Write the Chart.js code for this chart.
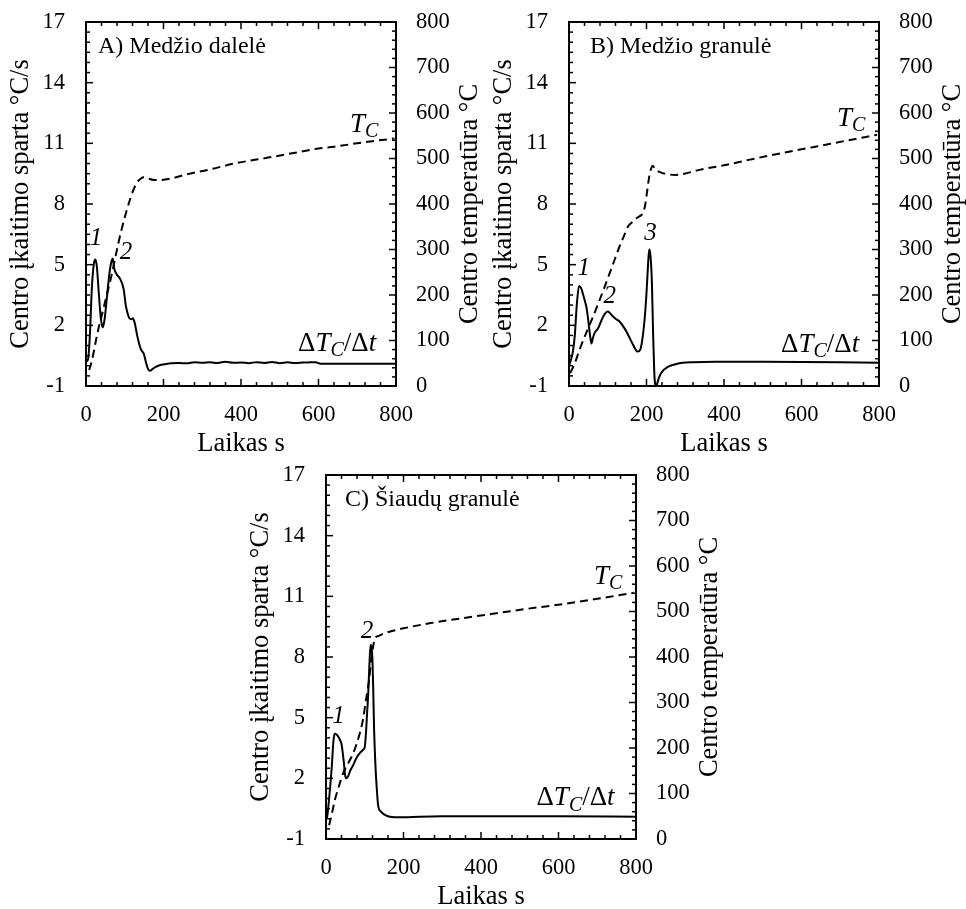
<!DOCTYPE html>
<html>
<head>
<meta charset="utf-8">
<title>Centro įkaitimo sparta</title>
<script src="https://cdn.jsdelivr.net/npm/chart.js@4.4.0/dist/chart.umd.min.js"></script>
<style>
  body { margin: 0; background: #fff; }
  #wrap { position: relative; width: 966px; height: 909px; }
  .box { position: absolute; width: 483px; height: 455px; }
</style>
</head>
<body>
<div id="wrap">
  <div class="box" style="left:0;top:0"><canvas id="chartA" width="483" height="455"></canvas></div>
  <div class="box" style="left:483px;top:0"><canvas id="chartB" width="483" height="455"></canvas></div>
  <div class="box" style="left:240px;top:453px"><canvas id="chartC" width="483" height="455"></canvas></div>
</div>
<script>
// ---- data (time s, rate °C/s, temperature °C) ----

// A) Medžio dalelė
const timeRateA = [0, 5, 10, 15, 20, 24, 28, 33, 38, 43, 48, 54, 60, 65, 69, 73, 80, 88, 97, 103, 108, 112, 117, 121, 126, 131, 135, 142, 149, 155, 160, 165, 172, 180, 194, 210, 220, 240, 260, 280, 300, 320, 340, 360, 380, 400, 420, 440, 460, 480, 500, 520, 540, 560, 580, 592, 605, 620, 700, 800];
const rateA = [0.2, 0.3, 1.5, 3.8, 5.0, 5.25, 4.9, 3.6, 2.4, 1.9, 2.3, 3.4, 4.5, 5.1, 5.3, 4.8, 4.5, 4.3, 3.8, 2.95, 2.55, 2.35, 2.3, 2.35, 2.1, 1.6, 1.25, 0.8, 0.6, 0.15, -0.15, -0.25, -0.15, -0.05, 0.05, 0.1, 0.12, 0.14, 0.12, 0.18, 0.15, 0.17, 0.14, 0.2, 0.15, 0.16, 0.13, 0.18, 0.14, 0.19, 0.13, 0.17, 0.14, 0.16, 0.17, 0.18, 0.1, 0.1, 0.1, 0.1];
const timeTempA = [8, 15, 30, 45, 65, 90, 116, 130, 142, 148, 160, 175, 194, 220, 254, 320, 383, 470, 555, 600, 641, 720, 796];
const tempA = [35, 55, 118, 170, 240, 338, 416, 445, 456, 459, 456, 453, 453, 456, 464, 476, 489, 502, 515, 522, 526, 536, 544];

// B) Medžio granulė
const timeRateB = [0, 5, 10, 15, 20, 26, 31, 36, 41, 45, 50, 55, 58, 62, 67, 75, 85, 92, 100, 106, 113, 122, 131, 145, 156, 165, 177, 184, 190, 196, 200, 204, 207, 210, 214, 217, 220, 222, 225, 228, 233, 240, 250, 259, 275, 293, 320, 378, 500, 800];
const rateB = [0.0, 0.3, 0.7, 1.5, 3.0, 3.95, 3.85, 3.55, 3.2, 2.9, 2.2, 1.4, 1.1, 1.4, 1.65, 1.85, 2.3, 2.55, 2.68, 2.6, 2.45, 2.3, 2.18, 1.8, 1.4, 1.05, 0.7, 0.8, 1.4, 2.5, 3.6, 5.0, 5.75, 5.5, 4.1, 1.6, -0.3, -0.87, -1.0, -0.85, -0.55, -0.3, -0.12, -0.02, 0.08, 0.15, 0.18, 0.2, 0.2, 0.15];
const timeTempB = [3, 15, 27, 45, 62, 79, 95, 105, 118, 130, 142, 152, 163, 173, 182, 190, 196, 202, 207, 212, 216, 222, 235, 250, 275, 300, 336, 400, 464, 550, 636, 720, 795];
const tempB = [28, 50, 79, 118, 152, 189, 225, 248, 278, 306, 330, 350, 360, 368, 373, 379, 395, 430, 460, 478, 484, 477, 470, 466, 464, 467, 475, 485, 497, 512, 526, 540, 552];

// C) Šiaudų granulė
const timeRateC = [0, 3, 8, 15, 19, 22, 28, 32, 36, 40, 43, 46, 49, 52, 57, 63, 70, 77, 83, 90, 95, 100, 103, 106, 109, 112, 115, 118, 120, 122, 124, 127, 130, 135, 142, 152, 165, 190, 243, 300, 400, 600, 800];
const rateC = [0.0, 0.1, 1.0, 2.6, 3.8, 4.2, 4.15, 4.05, 3.9, 3.7, 3.3, 2.8, 2.2, 2.0, 2.1, 2.4, 2.65, 2.95, 3.15, 3.3, 3.4, 3.55, 4.2, 5.2, 6.2, 7.6, 8.6, 8.4, 7.8, 6.3, 4.5, 2.9, 1.8, 0.6, 0.35, 0.19, 0.1, 0.07, 0.1, 0.12, 0.13, 0.12, 0.1];
const timeTempC = [8, 15, 23, 33, 44, 57, 70, 87, 96, 103, 111, 117, 122, 126, 135, 150, 200, 267, 350, 439, 520, 610, 700, 794];
const tempC = [30, 55, 86, 115, 144, 166, 188, 232, 265, 305, 349, 395, 425, 441, 446, 452, 463, 474, 485, 496, 506, 516, 528, 541];

// axis ticks
const timeTicks = { min: 0, max: 800, step: 200, minor: 40 };
const rateTicks = { min: -1, max: 17, step: 3, minor: 0.5 };
const tempTicks = { min: 0, max: 800, step: 100, minor: 20 };

const SERIF = '"Liberation Serif", "Times New Roman", serif';

const pts = (xs, ys) => xs.map((x, i) => ({ x: x, y: ys[i] }));

function drawRuns(ctx, runs, cx, cy) {
  let w = 0;
  runs.forEach(r => { ctx.font = r.font; r.w = ctx.measureText(r.text).width; w += r.w; });
  let x = cx - w / 2;
  runs.forEach(r => { ctx.font = r.font; ctx.fillText(r.text, x, cy + (r.dy || 0)); x += r.w; });
}

const IT = 'italic 27px ' + SERIF, SUB = 'italic 20px ' + SERIF, RM = '27px ' + SERIF;

// frame, inward ticks, titles and annotations
const decor = {
  id: 'decor',
  afterDatasetsDraw(chart, args, o) {
    const { ctx, chartArea: a, scales } = chart;
    ctx.save();
    ctx.strokeStyle = '#000';
    ctx.fillStyle = '#000';
    ctx.lineWidth = 1.5;
    const seg = (x1, y1, x2, y2) => { ctx.beginPath(); ctx.moveTo(x1, y1); ctx.lineTo(x2, y2); ctx.stroke(); };

    const x = scales.x;
    for (let i = 0; i * timeTicks.minor <= timeTicks.max; i++) {
      const v = i * timeTicks.minor, px = x.getPixelForValue(v);
      const len = v % timeTicks.step === 0 ? 7 : 4;
      seg(px, a.bottom, px, a.bottom - len);
      seg(px, a.top, px, a.top + len);
    }
    const y = scales.y;
    for (let i = 0; rateTicks.min + i * rateTicks.minor <= rateTicks.max; i++) {
      const v = rateTicks.min + i * rateTicks.minor, py = y.getPixelForValue(v);
      const len = (v - rateTicks.min) % rateTicks.step === 0 ? 7 : 4;
      seg(a.left, py, a.left + len, py);
    }
    const y2 = scales.y2;
    for (let i = 0; i * tempTicks.minor <= tempTicks.max; i++) {
      const v = i * tempTicks.minor, py = y2.getPixelForValue(v);
      const len = v % tempTicks.step === 0 ? 7 : 4;
      seg(a.right, py, a.right - len, py);
    }
    ctx.lineWidth = 2;
    ctx.strokeRect(a.left, a.top, a.right - a.left, a.bottom - a.top);

    // axis titles
    const midY = (a.top + a.bottom) / 2;
    ctx.font = '26.5px ' + SERIF;
    ctx.textAlign = 'center';
    ctx.textBaseline = 'middle';
    ctx.save(); ctx.translate(21, midY); ctx.rotate(-Math.PI / 2);
    ctx.fillText('Centro įkaitimo sparta °C/s', 0, 0); ctx.restore();
    ctx.save(); ctx.translate(470, midY); ctx.rotate(-Math.PI / 2);
    ctx.fillText('Centro temperatūra °C', 0, 0); ctx.restore();
    ctx.fillText('Laikas s', (a.left + a.right) / 2, 444);

    // panel label
    ctx.textAlign = 'left';
    ctx.font = '24px ' + SERIF;
    ctx.fillText(o.label, o.labelX, 47);

    // peak numbers and curve names
    o.peaks.forEach(p => {
      drawRuns(ctx, [{ text: p.text, font: 'italic 25px ' + SERIF }], x.getPixelForValue(p.t), y.getPixelForValue(p.v));
    });
    drawRuns(ctx, [{ text: 'T', font: IT }, { text: 'C', font: SUB, dy: 7 }],
      x.getPixelForValue(o.tc[0]), y.getPixelForValue(o.tc[1]));
    drawRuns(ctx, [{ text: 'Δ', font: RM }, { text: 'T', font: IT }, { text: 'C', font: SUB, dy: 7 },
      { text: '/', font: RM }, { text: 'Δ', font: RM }, { text: 't', font: IT }],
      x.getPixelForValue(o.dt[0]), y.getPixelForValue(o.dt[1]));
    ctx.restore();
  }
};

// invisible tick marks keep the y labels away from the frame
// (ticks.padding would also push the plot top down)
const hiddenGrid = len => ({ display: true, drawOnChartArea: false, drawTicks: true,
  tickLength: len, color: 'rgba(0,0,0,0)' });

function makeChart(id, rateT, rate, tempT, temp, extra) {
  const tickFont = { family: SERIF, size: 22.5 };
  return new Chart(document.getElementById(id), {
    type: 'line',
    data: {
      datasets: [
        { data: pts(rateT, rate), yAxisID: 'y', borderColor: '#000', borderWidth: 2,
          pointRadius: 0, cubicInterpolationMode: 'monotone' },
        { data: pts(tempT, temp), yAxisID: 'y2', borderColor: '#000', borderWidth: 2,
          borderDash: [8, 5], pointRadius: 0, cubicInterpolationMode: 'monotone' }
      ]
    },
    options: {
      responsive: false,
      animation: false,
      devicePixelRatio: 1,
      layout: { padding: { top: 22 } },
      plugins: { legend: { display: false }, tooltip: { enabled: false }, decor: extra },
      scales: {
        x: { type: 'linear', min: timeTicks.min, max: timeTicks.max,
          ticks: { stepSize: timeTicks.step, padding: 16, color: '#000', font: tickFont, maxRotation: 0 },
          grid: { display: false, drawTicks: false }, border: { display: false },
          afterFit(s) { s.height = 69; } },
        y: { position: 'left', min: rateTicks.min, max: rateTicks.max,
          ticks: { stepSize: rateTicks.step, padding: 0, color: '#000', font: tickFont },
          grid: hiddenGrid(21), border: { display: false },
          afterFit(s) { s.width = 86; } },
        y2: { position: 'right', min: tempTicks.min, max: tempTicks.max,
          ticks: { stepSize: tempTicks.step, padding: 0, color: '#000', font: tickFont },
          grid: hiddenGrid(20), border: { display: false },
          afterFit(s) { s.width = 87; } }
      }
    },
    plugins: [decor]
  });
}

makeChart('chartA', timeRateA, rateA, timeTempA, tempA, {
  label: 'A) Medžio dalelė', labelX: 98,
  peaks: [{ text: '1', t: 26, v: 6.3 }, { text: '2', t: 103, v: 5.6 }],
  tc: [718, 11.9], dt: [648, 1.1]
});
makeChart('chartB', timeRateB, rateB, timeTempB, tempB, {
  label: 'B) Medžio granulė', labelX: 107,
  peaks: [{ text: '1', t: 38, v: 4.8 }, { text: '2', t: 105, v: 3.42 }, { text: '3', t: 210, v: 6.55 }],
  tc: [728, 12.2], dt: [648, 1.03]
});
makeChart('chartC', timeRateC, rateC, timeTempC, tempC, {
  label: 'C) Šiaudų granulė', labelX: 105,
  peaks: [{ text: '1', t: 32, v: 5.05 }, { text: '2', t: 106, v: 9.25 }],
  tc: [728, 11.97], dt: [644, 1.01]
});
</script>
</body>
</html>
